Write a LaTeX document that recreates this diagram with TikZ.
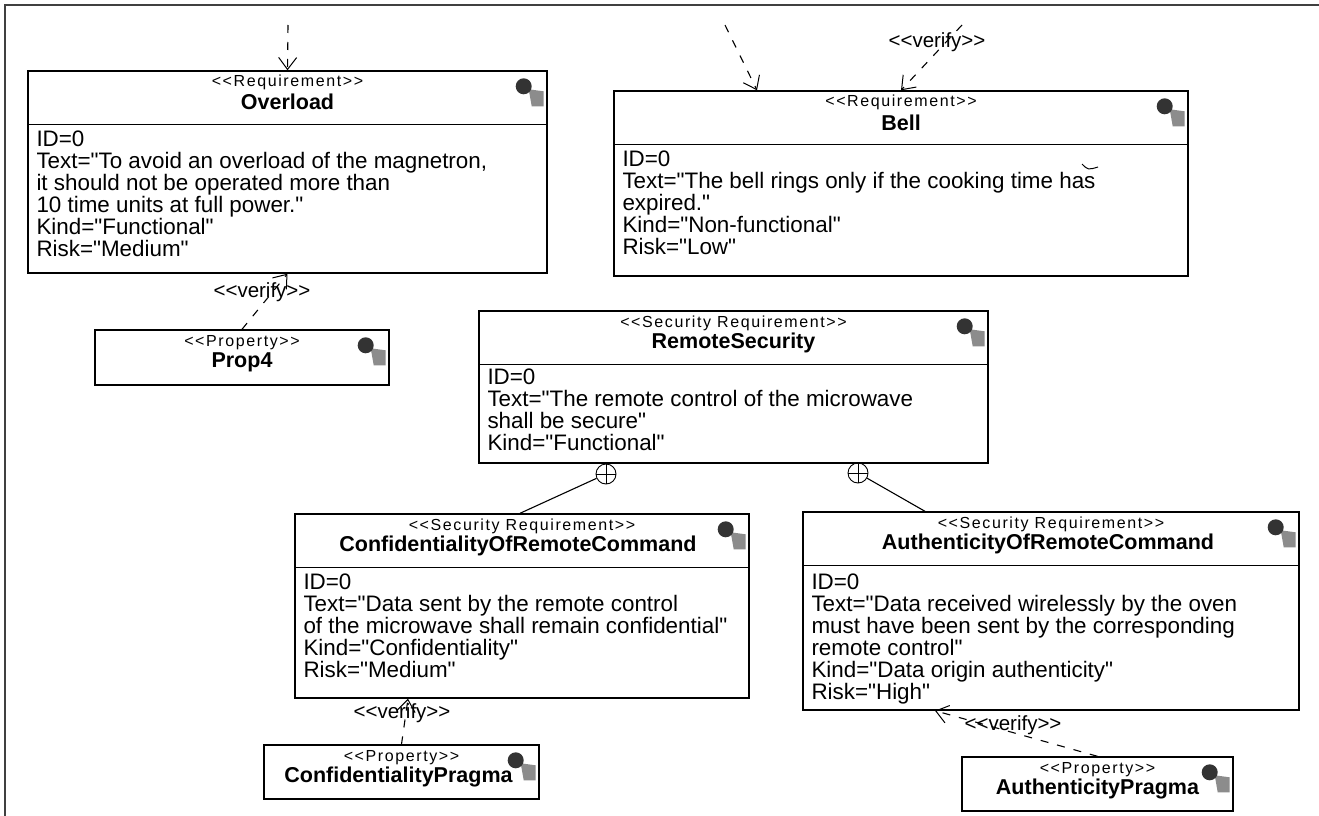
\documentclass[tikz,border=0pt]{standalone}
\usepackage{fontspec}
\setmainfont[Ligatures=TeXOff]{Liberation Sans}
\newfontfamily\stereofont[LetterSpace=10]{Liberation Sans}
\usetikzlibrary{arrows.meta, positioning, calc}

\begin{document}
\begin{tikzpicture}[x=1pt, y=-1pt,
      box/.style={rectangle, draw, line width=1.4pt, inner sep=0pt},
      stereo/.style={inner sep=0pt, font=\fontsize{16}{16}\stereofont},
      title/.style={inner sep=0pt, font=\fontsize{21.5}{22}\bfseries\selectfont},
      body/.style={inner sep=0pt, anchor=north west, align=left, font=\fontsize{22.4}{22}\selectfont},
      verifylabel/.style={inner sep=0pt, font=\fontsize{20.5}{20}\selectfont},
      verify/.style={draw, line width=1.1pt, dash pattern=on 8pt off 9pt, -{Straight Barb[length=12pt, width=18pt, line width=1pt]}},
      contain/.style={circle, draw, line width=0.9pt, minimum size=20pt, inner sep=0pt,
        path picture={
          \draw (path picture bounding box.north) -- (path picture bounding box.south);
          \draw (path picture bounding box.west) -- (path picture bounding box.east);
        }}]

      \useasboundingbox (0,0) rectangle (1319,816);
      \fill[white] (0,0) rectangle (1319,816);
      \draw[line width=1.2pt, black!75] (5,816) -- (5,5) -- (1319,5);

      % Requirements
      \node[box, minimum width=519, minimum height=202] (overload) at (287.5,172) {};
      \node[stereo] (overloadstereo) at ([yshift=-12pt]overload.north) {<<Requirement>>};
      \node[title] (overloadtitle) at ([yshift=-32pt]overload.north) {Overload};
      \node[body] (overloadbody) at ([xshift=9pt,yshift=-60pt]overload.north west) {ID=0\\
        Text="To avoid an overload of the magnetron,\\
        it should not be operated more than\\
        10 time units at full power."\\
        Kind="Functional"\\
        Risk="Medium"};

      \node[box, minimum width=574, minimum height=185] (bell) at (901,183.5) {};
      \node[stereo] (bellstereo) at ([yshift=-12pt]bell.north) {<<Requirement>>};
      \node[title] (belltitle) at ([yshift=-33pt]bell.north) {Bell};
      \node[body] (bellbody) at ([xshift=9pt,yshift=-60pt]bell.north west) {ID=0\\
        Text="The bell rings only if the cooking time has\\
        expired."\\
        Kind="Non-functional"\\
        Risk="Low"};

      \node[box, minimum width=509, minimum height=152] (remote) at (733.5,387) {};
      \node[stereo] (remotestereo) at ([yshift=-13pt]remote.north) {<<Security Requirement>>};
      \node[title] (remotetitle) at ([yshift=-33pt]remote.north) {RemoteSecurity};
      \node[body] (remotebody) at ([xshift=9pt,yshift=-58pt]remote.north west) {ID=0\\
        Text="The remote control of the microwave\\
        shall be secure"\\
        Kind="Functional"};

      \node[box, minimum width=454, minimum height=184] (conf) at (522,606) {};
      \node[stereo] (confstereo) at ([yshift=-13pt]conf.north) {<<Security Requirement>>};
      \node[title] (conftitle) at ([xshift=-4pt,yshift=-33pt]conf.north) {ConfidentialityOfRemoteCommand};
      \node[body] (confbody) at ([xshift=9pt,yshift=-60pt]conf.north west) {ID=0\\
        Text="Data sent by the remote control\\
        of the microwave shall remain confidential"\\
        Kind="Confidentiality"\\
        Risk="Medium"};

      \node[box, minimum width=496, minimum height=198] (auth) at (1051,611) {};
      \node[stereo] (authstereo) at ([yshift=-13pt]auth.north) {<<Security Requirement>>};
      \node[title] (authtitle) at ([xshift=-3pt,yshift=-33pt]auth.north) {AuthenticityOfRemoteCommand};
      \node[body] (authbody) at ([xshift=9pt,yshift=-62pt]auth.north west) {ID=0\\
        Text="Data received wirelessly by the oven\\
        must have been sent by the corresponding\\
        remote control"\\
        Kind="Data origin authenticity"\\
        Risk="High"};

      % Properties
      \node[box, minimum width=294, minimum height=55] (prop4) at (242,357.5) {};
      \node[stereo] (prop4stereo) at ([yshift=-13pt]prop4.north) {<<Property>>};
      \node[title] (prop4title) at ([yshift=-33pt]prop4.north) {Prop4};

      \node[box, minimum width=275, minimum height=54] (confpragma) at (401.5,772) {};
      \node[stereo] (confpragmastereo) at ([yshift=-13pt]confpragma.north) {<<Property>>};
      \node[title] (confpragmatitle) at ([xshift=-3pt,yshift=-33pt]confpragma.north) {ConfidentialityPragma};

      \node[box, minimum width=271, minimum height=54] (authpragma) at (1097.5,784) {};
      \node[stereo] (authpragmastereo) at ([yshift=-13pt]authpragma.north) {<<Property>>};
      \node[title] (authpragmatitle) at ([yshift=-33pt]authpragma.north) {AuthenticityPragma};

      % Compartment lines and icons
      \foreach \n in {overload, bell, remote, conf, auth} {
        \draw[line width=1.4pt] ([yshift=-54pt]\n.north west) -- ([yshift=-54pt]\n.north east);
      }
      \foreach \n in {overload, bell, remote, conf, auth, prop4, confpragma, authpragma} {
        \fill[black!45] ([xshift=-19pt,yshift=-19pt]\n.north east) -- ++(15,2) -- ++(0,15) -- ++(-12,0) -- cycle;
        \fill[black!80] ([xshift=-24pt,yshift=-16pt]\n.north east) circle (8pt);
      }

      % Free ends
      \coordinate (overloadsrc) at (288,25);
      \coordinate (bellsrca) at (725,25);
      \coordinate (bellsrcb) at (962,25);

      % Dependencies
      \draw[verify] (overloadsrc) -- (overload.north);
      \draw[verify] (bellsrca) -- ([xshift=-144pt]bell.north);
      \draw[verify] (bellsrcb) -- (bell.north);
      \draw[verify] (prop4.north) -- (overload.south);
      \draw[verify] (confpragma.north) -- ([xshift=-114pt]conf.south);
      \draw[verify] (authpragma.north) -- ([xshift=-116pt]auth.south);

      \node[verifylabel] (verifybell) at (937,42) {<<verify>>};
      \node[verifylabel] (verifyoverload) at (262,292) {<<verify>>};
      \node[verifylabel] (verifyconf) at (402,713) {<<verify>>};
      \node[verifylabel] (verifyauth) at (1013,725) {<<verify>>};

      % Containment
      \node[contain] (plusconf) at (606,474) {};
      \node[contain] (plusauth) at (858,473) {};
      \draw[line width=1.1pt] (plusconf) -- ([xshift=-2pt]conf.north);
      \draw[line width=1.1pt] (plusauth) -- ([xshift=-126pt]auth.north);

      % Stray mark
      \draw[line width=1pt] (1082,164) .. controls (1088,170) .. (1098,167);
    \end{tikzpicture}
\end{document}
